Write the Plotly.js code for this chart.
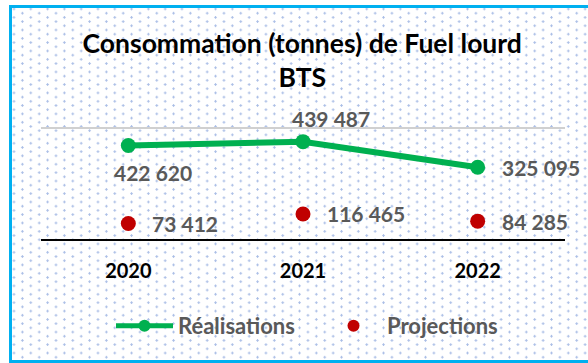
<!DOCTYPE html>
<html>
<head>
<meta charset="utf-8">
<script src="https://cdn.plot.ly/plotly-3.0.1.min.js"></script>
<style>
  html, body { margin: 0; padding: 0; background: #ffffff; overflow: hidden; width: 588px; height: 363px; }
  #frame {
    position: absolute; left: 9px; top: 5px; width: 600px; height: 352px;
    border: 3px solid #00b0f0; border-right: none;
    background-color: #ffffff;
    background-image:
      radial-gradient(circle, #a9bde6 0.9px, rgba(255,255,255,0) 1.4px),
      radial-gradient(circle, #a9bde6 0.9px, rgba(255,255,255,0) 1.4px);
    background-size: 16.8px 8.4px, 16.8px 8.4px;
    background-position: 2px 1px, 10.4px 5.2px;
  }
  #chart { position: absolute; left: 0; top: 0; width: 588px; height: 363px; }
</style>
</head>
<body>
<div id="frame"></div>
<div id="chart"></div>
<script>
// Heavy fuel oil consumption (tonnes), BTS
const years = ['2020', '2021', '2022'];
const realisations = [422620, 439487, 325095];
const projections = [73412, 116465, 84285];
const yTicks = [0, 500000];

// label offsets (px) for each point of each series
const realShift = [[25, -27, 'center'], [28, 23, 'center'], [22, 0, 'left']];
const projShift = [[22, 0, 'left'], [22, 0, 'left'], [22, 0, 'left']];

const fmt = v => String(v).replace(/\B(?=(\d{3})+(?!\d))/g, ' ');

const labelFont = { family: 'Lato, sans-serif', size: 21, color: '#595959' };

const annotations = [];
years.forEach((y, i) => {
  annotations.push({
    x: i, y: realisations[i], xref: 'x', yref: 'y', text: '<b>' + fmt(realisations[i]) + '</b>',
    showarrow: false, xanchor: realShift[i][2], yanchor: 'middle',
    xshift: realShift[i][0], yshift: realShift[i][1], font: labelFont
  });
  annotations.push({
    x: i, y: projections[i], xref: 'x', yref: 'y', text: '<b>' + fmt(projections[i]) + '</b>',
    showarrow: false, xanchor: projShift[i][2], yanchor: 'middle',
    xshift: projShift[i][0], yshift: projShift[i][1], font: labelFont
  });
});

const traces = [
  {
    type: 'scatter', mode: 'lines+markers', name: '<b>Réalisations</b>',
    x: years, y: realisations,
    line: { color: '#00b050', width: 6 },
    marker: { color: '#00b050', size: 15 },
    hoverinfo: 'none'
  },
  {
    type: 'scatter', mode: 'markers', name: '<b>Projections</b>',
    x: years, y: projections,
    marker: { color: '#c00000', size: 15 },
    hoverinfo: 'none'
  }
];

const layout = {
  width: 588, height: 363,
  margin: { l: 41, r: 23, t: 127, b: 123 },
  paper_bgcolor: 'rgba(0,0,0,0)',
  plot_bgcolor: 'rgba(0,0,0,0)',
  font: { family: 'Lato, sans-serif' },
  title: {
    text: '<b>Consommation (tonnes) de Fuel lourd</b><br><b>BTS</b>',
    font: { family: 'Lato, sans-serif', size: 26.5, color: '#000000' },
    x: 0.514, xanchor: 'center', y: 0.855, yanchor: 'middle'
  },
  xaxis: {
    type: 'category', range: [-0.5, 2.5],
    showgrid: false, zeroline: false, showline: false,
    ticks: '', ticklabelstandoff: 17,
    tickfont: { family: 'Lato, sans-serif', size: 20, color: '#000000', weight: 'bold' },
    fixedrange: true
  },
  yaxis: {
    range: [0, 505000], tickmode: 'array', tickvals: yTicks,
    showticklabels: false, ticks: '',
    showgrid: true, gridcolor: '#d0d0d0', gridwidth: 2,
    zeroline: true, zerolinecolor: '#000000', zerolinewidth: 2,
    showline: false, fixedrange: true
  },
  showlegend: true,
  legend: {
    orientation: 'h', x: 0.1336, xanchor: 'left', y: -0.76, yanchor: 'middle',
    font: { family: 'Lato, sans-serif', size: 22, color: '#595959' },
    bgcolor: 'rgba(0,0,0,0)', itemsizing: 'constant',
    itemwidth: 57, entrywidth: 137
  },
  annotations: annotations
};

Plotly.newPlot('chart', traces, layout, { displayModeBar: false, staticPlot: true });
</script>
</body>
</html>
